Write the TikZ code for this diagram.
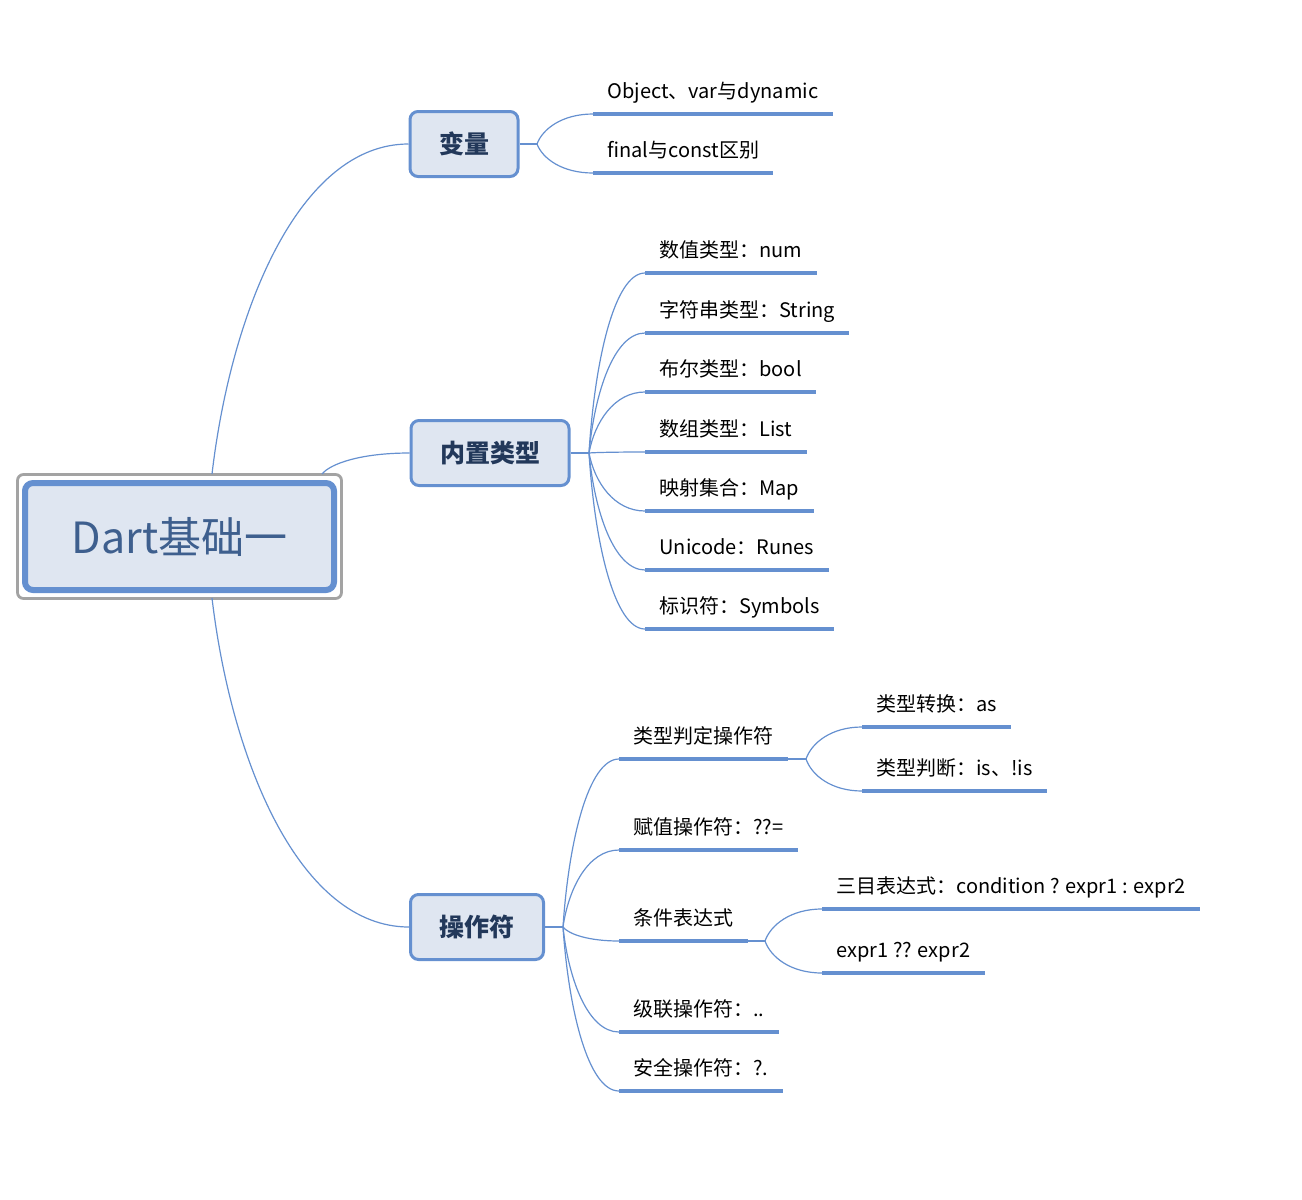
\documentclass[tikz,border=0pt]{standalone}
\usepackage{fontspec}
\setmainfont{Noto Sans CJK SC}
\usetikzlibrary{calc}

\definecolor{trait}{HTML}{6590D0}
\definecolor{fond}{HTML}{DFE6F1}
\definecolor{encre}{HTML}{22385A}
\definecolor{titre}{HTML}{3E5F8E}
\definecolor{gris}{HTML}{A3A3A3}

\tikzset{racine/.style = {draw=trait, line width=3pt, fill=fond, rounded corners=4pt,
                          minimum width=154.5pt, minimum height=53.5pt,
                          font=\fontsize{21.5}{25}\selectfont, text=titre},
         cadre/.style = {draw=gris, line width=1.4pt, rounded corners=3pt},
         branche/.style = {draw=trait, line width=1.5pt, fill=fond, rounded corners=4pt,
                           inner xsep=14.5pt, minimum height=32.5pt,
                           font=\fontsize{12.5}{15}\selectfont\bfseries, text=encre},
         feuille/.style = {anchor=south west, inner xsep=7pt, inner ysep=5pt,
                           text depth=2.5pt, font=\fontsize{10}{12}\selectfont, text=black},
         fil/.style = {draw=trait, line width=0.6pt},
         souligne/.style = {draw=trait, line width=2pt},
         courbe/.style = {fil, to path={.. controls ($(\tikztostart)!0.45!(\tikztostart |- \tikztotarget)!0.1!(\tikztotarget)$)
                                        and ($(\tikztotarget)!0.55!(\tikztostart |- \tikztotarget)$) .. (\tikztotarget)}}
        }

\begin{document}
\begin{tikzpicture}[x=0.5pt, y=-0.5pt]
  \useasboundingbox (0,0) rectangle (1302,1200);

  % racine
  \node[racine] (dart) at (179.5,536.5) {Dart基础一};
  \draw[cadre] ([shift={(-2.25pt,2.75pt)}]dart.north west) rectangle ([shift={(2.25pt,-2.75pt)}]dart.south east);
  \coordinate (d1) at (212,474);
  \coordinate (d2) at (322,474);
  \coordinate (d3) at (212,598);

  % branches
  \node[branche] (var) at (464,144) {变量};
  \node[branche] (types) at (490,453) {内置类型};
  \node[branche] (ops) at (477,927) {操作符};
  \draw[courbe] (d1) to (var.west);
  \draw[courbe] (d2) to (types.west);
  \draw[courbe] (d3) to (ops.west);

  % variables
  \coordinate (hvar) at (537,144);
  \draw[fil] (var.east) -- (hvar);
  \node[feuille] (obj) at (593,114) {Object、var与dynamic};
  \node[feuille] (fin) at (593,173) {final与const区别};
  \draw[souligne] (obj.south west) -- (obj.south east);
  \draw[souligne] (fin.south west) -- (fin.south east);
  \draw[courbe] (hvar) to (obj.south west);
  \draw[courbe] (hvar) to (fin.south west);

  % types
  \coordinate (htypes) at (589,453);
  \draw[fil] (types.east) -- (htypes);
  \node[feuille] (num) at (645,273) {数值类型：num};
  \node[feuille] (str) at (645,333) {字符串类型：String};
  \node[feuille] (bool) at (645,392) {布尔类型：bool};
  \node[feuille] (list) at (645,452) {数组类型：List};
  \node[feuille] (map) at (645,511) {映射集合：Map};
  \node[feuille] (runes) at (645,570) {Unicode：Runes};
  \node[feuille] (sym) at (645,629) {标识符：Symbols};
  \draw[souligne] (num.south west) -- (num.south east);
  \draw[souligne] (str.south west) -- (str.south east);
  \draw[souligne] (bool.south west) -- (bool.south east);
  \draw[souligne] (list.south west) -- (list.south east);
  \draw[souligne] (map.south west) -- (map.south east);
  \draw[souligne] (runes.south west) -- (runes.south east);
  \draw[souligne] (sym.south west) -- (sym.south east);
  \draw[courbe] (htypes) to (num.south west);
  \draw[courbe] (htypes) to (str.south west);
  \draw[courbe] (htypes) to (bool.south west);
  \draw[courbe] (htypes) to (list.south west);
  \draw[courbe] (htypes) to (map.south west);
  \draw[courbe] (htypes) to (runes.south west);
  \draw[courbe] (htypes) to (sym.south west);

  % operateurs
  \coordinate (hops) at (563,927);
  \draw[fil] (ops.east) -- (hops);
  \node[feuille] (juge) at (619,759) {类型判定操作符};
  \node[feuille] (affect) at (619,850) {赋值操作符：??=};
  \node[feuille] (cond) at (619,941) {条件表达式};
  \node[feuille] (cascade) at (619,1032) {级联操作符：..};
  \node[feuille] (sur) at (619,1091) {安全操作符：?.};
  \draw[souligne] (juge.south west) -- (juge.south east);
  \draw[souligne] (affect.south west) -- (affect.south east);
  \draw[souligne] (cond.south west) -- (cond.south east);
  \draw[souligne] (cascade.south west) -- (cascade.south east);
  \draw[souligne] (sur.south west) -- (sur.south east);
  \draw[courbe] (hops) to (juge.south west);
  \draw[courbe] (hops) to (affect.south west);
  \draw[courbe] (hops) to (cond.south west);
  \draw[courbe] (hops) to (cascade.south west);
  \draw[courbe] (hops) to (sur.south west);

  % type judge
  \coordinate (hjuge) at (806,759);
  \draw[fil] (juge.south east) -- (hjuge);
  \node[feuille] (as) at (862,727) {类型转换：as};
  \node[feuille] (is) at (862,791) {类型判断：is、!is};
  \draw[souligne] (as.south west) -- (as.south east);
  \draw[souligne] (is.south west) -- (is.south east);
  \draw[courbe] (hjuge) to (as.south west);
  \draw[courbe] (hjuge) to (is.south west);

  % conditions
  \coordinate (hcond) at (765,941);
  \draw[fil] (cond.south east) -- (hcond);
  \node[feuille] (tern) at (822,909) {三目表达式：condition ? expr1 : expr2};
  \node[feuille] (nul) at (822,973) {expr1 ?? expr2};
  \draw[souligne] (tern.south west) -- (tern.south east);
  \draw[souligne] (nul.south west) -- (nul.south east);
  \draw[courbe] (hcond) to (tern.south west);
  \draw[courbe] (hcond) to (nul.south west);
\end{tikzpicture}
\end{document}
